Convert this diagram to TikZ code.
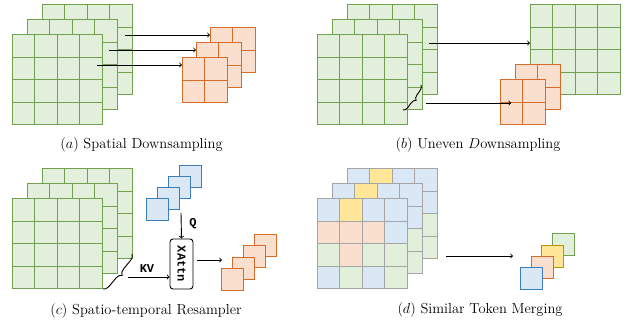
\documentclass[tikz,border=0pt]{standalone}
\usepackage{fontspec}
\usepackage{tikz}
\usetikzlibrary{calc,decorations.pathreplacing}
\newfontfamily\codefont{Liberation Mono}

\definecolor{gfill}{RGB}{226,239,218}
\definecolor{gline}{RGB}{112,160,80}
\definecolor{ofill}{RGB}{250,223,206}
\definecolor{oline}{RGB}{214,108,42}
\definecolor{bfill}{RGB}{218,231,245}
\definecolor{bline}{RGB}{60,125,190}
\definecolor{yfill}{RGB}{255,230,153}
\definecolor{yline}{RGB}{191,144,0}
\definecolor{gridgray}{RGB}{165,165,165}

\begin{document}
\begin{tikzpicture}[x=1pt,y=-1pt,
    cell/.style={rectangle,inner sep=0pt,outer sep=0pt,minimum size=22.5pt,line width=1pt,draw},
    tokgreen/.style={fill=gfill,draw=gline},
    tokorange/.style={fill=ofill,draw=oline},
    tokblue/.style={fill=bfill,draw=bline},
    tokyellow/.style={fill=yfill,draw=yline},
    token/.style={cell,minimum size=22pt},
    arr/.style={->,line width=0.9pt},
    bracemark/.style={decorate,line width=0.9pt},
    caption/.style={font=\fontsize{14.5}{17}\selectfont},
    keylabel/.style={font=\codefont\bfseries\fontsize{12}{14}\selectfont}
    ]
    \useasboundingbox (0,0) rectangle (627,328);
    \def\cs{22.5}

    % green 4x4 feature maps, back to front
    \foreach \gname/\gx/\gy in {a0/42/5, a1/27/20, a2/12/35,
                                b0/347/5, b1/332/20, b2/317/35, bR/530/5,
                                c0/42/169, c1/27/184, c2/12/199} {
        \foreach \i in {1,...,4} {
            \foreach \j in {1,...,4} {
                \node[cell,tokgreen] (\gname-\i-\j) at ({\gx+(\i-0.5)*\cs},{\gy+(\j-0.5)*\cs}) {};
            }
        }
    }

    % orange 2x2 pooled maps
    \foreach \gname/\gx/\gy in {oa0/210/28, oa1/196/43, oa2/182/58,
                                ob0/515/65, ob1/500/80} {
        \foreach \i in {1,2} {
            \foreach \j in {1,2} {
                \node[cell,tokorange] (\gname-\i-\j) at ({\gx+(\i-0.5)*\cs},{\gy+(\j-0.5)*\cs}) {};
            }
        }
    }

    % coloured token maps for merging
    \foreach \gname/\gx/\gy in {d0/347/169, d1/332/184, d2/317/199} {
        \foreach \c [count=\k from 0] in {tokblue,tokyellow,tokblue,tokblue,
                                          tokorange,tokorange,tokorange,tokblue,
                                          tokgreen,tokorange,tokgreen,tokgreen,
                                          tokblue,tokgreen,tokblue,tokgreen} {
            \pgfmathtruncatemacro\ci{mod(\k,4)+1}
            \pgfmathtruncatemacro\cj{div(\k,4)+1}
            \node[cell,\c,draw=gridgray] (\gname-\ci-\cj) at ({\gx+(\ci-0.5)*\cs},{\gy+(\cj-0.5)*\cs}) {};
        }
    }

    % (a) arrows
    \coordinate (sa0) at (125,35);
    \coordinate (sa1) at (109,50);
    \coordinate (sa2) at (97,65);
    \draw[arr] (sa0) -- (sa0 -| oa0-1-1.west);
    \draw[arr] (sa1) -- (sa1 -| oa1-1-1.west);
    \draw[arr] (sa2) -- (sa2 -| oa2-1-1.west);

    % (b) arrows and brace
    \coordinate (sb0) at (429,43);
    \coordinate (sb1) at (426,103);
    \coordinate (bt) at (421,85);
    \coordinate (bb) at (403,110);
    \draw[arr] (sb0) -- (sb0 -| bR-1-2.west);
    \draw[arr] (sb1) -- (sb1 -| ob1-1-2.center);
    \draw[bracemark,decoration={brace,amplitude=5pt}] (bt) -- (bb);

    % (c) queries, cross attention, output
    \foreach \k in {3,2,1,0} {
        \node[token,tokblue] (q\k) at ({157+11*\k},{210-11.3*\k}) {};
    }
    \node[draw,rounded corners=3pt,line width=0.9pt,minimum width=23pt,minimum height=50pt,inner sep=0pt] (xattn) at (181.5,264) {};
    \node[keylabel,rotate=-90] (xattnlabel) at (xattn.center) {XAttn};
    \coordinate (qs) at (181,213);
    \draw[arr] (qs) -- (xattn.north);
    \node[keylabel] (qlabel) at (193,224) {Q};
    \coordinate (ct) at (132,254);
    \coordinate (cb) at (103,289);
    \draw[bracemark,decoration={brace,amplitude=6pt}] (ct) -- (cb);
    \coordinate (kvs) at (128,277);
    \draw[arr] (kvs) -- (kvs -| xattn.west);
    \node[keylabel] (kvlabel) at (147,269) {KV};
    \coordinate (oc) at (222,260);
    \draw[arr] (197,260) -- (oc);
    \foreach \k in {3,2,1,0} {
        \node[token,tokorange] (r\k) at ({232+11.3*\k},{280-11.5*\k}) {};
    }

    % (d) merged tokens
    \coordinate (ds) at (446,256);
    \coordinate (de) at (513,256);
    \draw[arr] (ds) -- (de);
    \node[token,tokgreen] (mgreen) at (563.5,245) {};
    \node[token,tokyellow] (myellow) at (552.5,256.5) {};
    \node[token,tokorange] (morange) at (542,268) {};
    \node[token,tokblue] (mblue) at (531,279) {};

    % captions
    \node[caption] (capa) at (141.5,145) {$(a)$ Spatial Downsampling};
    \node[caption] (capb) at (478,145) {$(b)$ Uneven $D$ownsampling};
    \node[caption] (capc) at (146,311) {$(c)$ Spatio-temporal Resampler};
    \node[caption] (capd) at (480,310) {$(d)$ Similar Token Merging};
\end{tikzpicture}
\end{document}
